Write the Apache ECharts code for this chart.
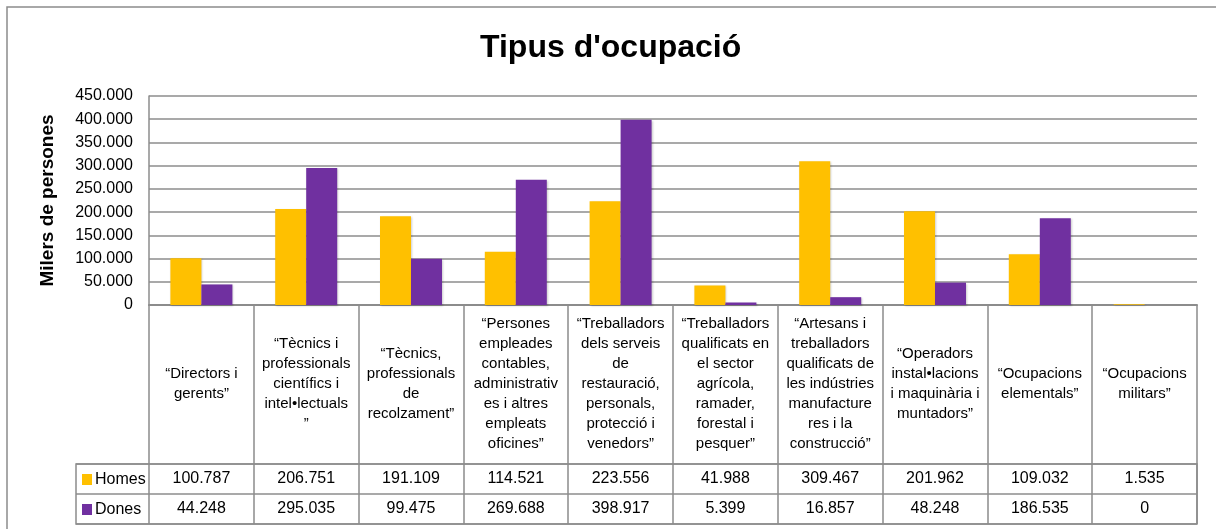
<!DOCTYPE html>
<html>
<head>
<meta charset="utf-8">
<title>Tipus d'ocupació</title>
<script src="https://cdn.jsdelivr.net/npm/echarts@6/dist/echarts.min.js"></script>
<style>
    html, body { margin: 0; padding: 0; background: #fff; }
    #chart { width: 1216px; height: 529px; }
</style>
</head>
<body>
<div id="chart"></div>
<script>
// categories (line breaks as in the table cells)
var categories = [
    "“Directors i\ngerents”",
    "“Tècnics i\nprofessionals\ncientífics i\nintel•lectuals\n”",
    "“Tècnics,\nprofessionals\nde\nrecolzament”",
    "“Persones\nempleades\ncontables,\nadministrativ\nes i altres\nempleats\noficines”",
    "“Treballadors\ndels serveis\nde\nrestauració,\npersonals,\nprotecció i\nvenedors”",
    "“Treballadors\nqualificats en\nel sector\nagrícola,\nramader,\nforestal i\npesquer”",
    "“Artesans i\ntreballadors\nqualificats de\nles indústries\nmanufacture\nres i la\nconstrucció”",
    "“Operadors\ninstal•lacions\ni maquinària i\nmuntadors”",
    "“Ocupacions\nelementals”",
    "“Ocupacions\nmilitars”"
];
var seriesNames = ["Homes", "Dones"];
var homes = [100787, 206751, 191109, 114521, 223556, 41988, 309467, 201962, 109032, 1535];
var dones = [44248, 295035, 99475, 269688, 398917, 5399, 16857, 48248, 186535, 0];

(function () {
    var font = "Liberation Sans";
    var gray = "#8c8c8c";

    // 100787 -> "100.787"
    function fmt(v) {
        return String(v).replace(/\B(?=(\d{3})+(?!\d))/g, ".");
    }

    var myChart = echarts.init(document.getElementById("chart"));
    var option = {
        color: ["#FFC000", "#7030A0"],
        textStyle: { fontFamily: font },
        title: {
            text: "Tipus d'ocupació",
            left: 480,
            top: 32,
            padding: 0,
            textStyle: { fontFamily: font, fontSize: 32, fontWeight: "bold", color: "#000" }
        },
        // marc exterior
        graphic: [{
            type: "rect",
            shape: { x: 7, y: 7, width: 1300, height: 700 },
            style: { fill: "none", stroke: gray, lineWidth: 1.5 },
            silent: true
        }],
        legend: {
            data: seriesNames,
            orient: "vertical",
            left: 82,
            top: 471,
            padding: 0,
            icon: "rect",
            itemWidth: 10,
            itemHeight: 11,
            itemGap: 13,
            textStyle: { fontFamily: font, fontSize: 16, lineHeight: 17, color: "#000", padding: [0, 0, 0, -2] }
        },
        grid: [
            { left: 149, right: 19, top: 96, bottom: 224, containLabel: false },
            // taula de dades
            { left: 76, right: 19, top: 464, height: 60, show: true, borderColor: gray, borderWidth: 1.5, containLabel: false }
        ],
        xAxis: [
            {
                type: "category",
                gridIndex: 0,
                data: categories,
                axisLine: { lineStyle: { color: gray, width: 2 } },
                // les marques fan de línies verticals de la taula
                axisTick: { show: true, interval: 0, length: 219, lineStyle: { color: gray, width: 1.5 } },
                axisLabel: {
                    interval: 0,
                    margin: 79,
                    verticalAlign: "middle",
                    align: "center",
                    fontFamily: font,
                    fontSize: 15,
                    lineHeight: 20,
                    color: "#000"
                }
            },
            {
                type: "category",
                gridIndex: 0,
                position: "bottom",
                data: categories,
                axisLine: { show: false },
                axisTick: { show: false },
                axisLabel: {
                    interval: 0,
                    margin: 174,
                    verticalAlign: "middle",
                    fontFamily: font,
                    fontSize: 16,
                    color: "#000",
                    formatter: function (v, i) { return fmt(homes[i]); }
                }
            },
            {
                type: "category",
                gridIndex: 0,
                position: "bottom",
                data: categories,
                axisLine: { show: false },
                axisTick: { show: false },
                axisLabel: {
                    interval: 0,
                    margin: 204,
                    verticalAlign: "middle",
                    fontFamily: font,
                    fontSize: 16,
                    color: "#000",
                    formatter: function (v, i) { return fmt(dones[i]); }
                }
            },
            { type: "value", gridIndex: 1, show: false }
        ],
        yAxis: [
            {
                type: "value",
                gridIndex: 0,
                min: 0,
                max: 450000,
                interval: 50000,
                name: "Milers de persones",
                nameLocation: "middle",
                nameRotate: 90,
                nameGap: 92,
                nameTextStyle: { fontFamily: font, fontSize: 19, fontWeight: "bold", color: "#000" },
                axisLine: { show: true, lineStyle: { color: gray, width: 1.5 } },
                axisTick: { show: false },
                axisLabel: {
                    margin: 16,
                    fontFamily: font,
                    fontSize: 16,
                    color: "#000",
                    formatter: function (v) { return fmt(v); }
                },
                splitLine: { lineStyle: { color: gray, width: 1.5 } }
            },
            {
                type: "category",
                gridIndex: 1,
                inverse: true,
                data: seriesNames,
                axisLine: { show: false },
                axisTick: { show: false },
                axisLabel: { show: false },
                splitLine: { show: true, interval: 0, lineStyle: { color: gray, width: 1.5 } }
            }
        ],
        series: [
            {
                name: seriesNames[0],
                type: "bar",
                xAxisIndex: 0,
                yAxisIndex: 0,
                barWidth: 31,
                barGap: "0%",
                data: homes,
                itemStyle: { shadowColor: "rgba(0,0,0,0.2)", shadowBlur: 2, shadowOffsetX: 1, shadowOffsetY: 1 }
            },
            {
                name: seriesNames[1],
                type: "bar",
                xAxisIndex: 0,
                yAxisIndex: 0,
                barWidth: 31,
                barGap: "0%",
                data: dones,
                itemStyle: { shadowColor: "rgba(0,0,0,0.2)", shadowBlur: 2, shadowOffsetX: 1, shadowOffsetY: 1 }
            }
        ]
    };
    myChart.setOption(option);
    window.addEventListener("resize", function () {
        myChart.resize();
    });
})();
</script>
</body>
</html>
